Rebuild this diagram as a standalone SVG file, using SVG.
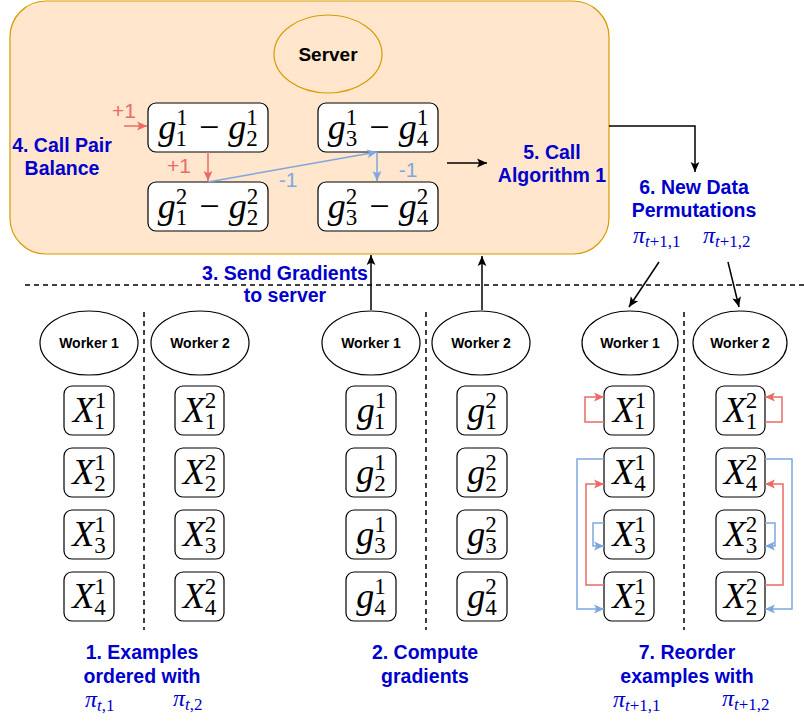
<svg xmlns="http://www.w3.org/2000/svg" width="804" height="721" viewBox="0 0 804 721">
<defs>
<style>
.lbl{font-family:"Liberation Sans",Arial,sans-serif;font-weight:bold;font-size:19.5px;fill:#0000cc;text-anchor:middle}
.wk{font-family:"Liberation Sans",Arial,sans-serif;font-weight:bold;font-size:14px;fill:#000;text-anchor:middle}
.m{font-family:"Liberation Serif","Times New Roman",serif;font-style:italic;font-size:36px;fill:#000;text-anchor:middle}
.s{font-style:normal;font-size:23px}
.r{font-style:normal;font-size:36px}
.pi{font-family:"Liberation Serif","Times New Roman",serif;font-style:italic;font-size:24px;fill:#0000cc}
.ps{font-size:17px}
.pn{font-style:normal;font-size:17px}
.box{fill:#fff;stroke:#000;stroke-width:1.2}
.ell{fill:#fff;stroke:#000;stroke-width:1.2}
.dash{stroke:#000;stroke-width:1.5;stroke-dasharray:5 4;fill:none}
.blk{stroke:#000;stroke-width:1.5;fill:none;marker-end:url(#ak)}
.red{stroke:#ea6b66;stroke-width:1.5;fill:none;marker-end:url(#ar)}
.blu{stroke:#7ea6e0;stroke-width:1.5;fill:none;marker-end:url(#ab)}
.pl{font-family:"Liberation Sans",Arial,sans-serif;font-size:21px;text-anchor:middle}
</style>
<marker id="ak" viewBox="0 0 10 10" refX="9.5" refY="5" markerWidth="11" markerHeight="11" markerUnits="userSpaceOnUse" orient="auto"><path d="M0.5,1 L9.5,5 L0.5,9 L2.5,5 z" fill="#000"/></marker>
<marker id="ar" viewBox="0 0 10 10" refX="9.5" refY="5" markerWidth="11" markerHeight="11" markerUnits="userSpaceOnUse" orient="auto"><path d="M0.5,1 L9.5,5 L0.5,9 L2.5,5 z" fill="#ea6b66"/></marker>
<marker id="ab" viewBox="0 0 10 10" refX="9.5" refY="5" markerWidth="11" markerHeight="11" markerUnits="userSpaceOnUse" orient="auto"><path d="M0.5,1 L9.5,5 L0.5,9 L2.5,5 z" fill="#7ea6e0"/></marker>
</defs>
<rect width="804" height="721" fill="#fff"/>

<g id="server-box">
<rect x="10" y="1" width="599" height="253" rx="36" fill="#ffe6cc" stroke="#d79b00" stroke-width="1.2"/>
</g>
<g id="server">
<ellipse cx="328" cy="54" rx="54" ry="39" fill="none" stroke="#d79b00" stroke-width="1.2"/>
<text x="328" y="61" class="wk" style="font-size:19px">Server</text>
</g>

<g id="pair-1-2-a">
<rect class="box" x="148" y="103" width="120" height="49" rx="8"/>
<text class="m" x="208" y="139">g<tspan class="s" dy="-14">1</tspan><tspan class="s" dx="-11.5" dy="21">1</tspan><tspan class="r" dx="12" dy="-7">−</tspan><tspan dx="9">g</tspan><tspan class="s" dy="-14">1</tspan><tspan class="s" dx="-11.5" dy="21">2</tspan></text>
</g>
<g id="pair-1-2-b">
<rect class="box" x="148" y="182" width="120" height="49" rx="8"/>
<text class="m" x="208" y="218">g<tspan class="s" dy="-14">2</tspan><tspan class="s" dx="-11.5" dy="21">1</tspan><tspan class="r" dx="12" dy="-7">−</tspan><tspan dx="9">g</tspan><tspan class="s" dy="-14">2</tspan><tspan class="s" dx="-11.5" dy="21">2</tspan></text>
</g>
<g id="pair-3-4-a">
<rect class="box" x="318" y="103" width="120" height="49" rx="8"/>
<text class="m" x="378" y="139">g<tspan class="s" dy="-14">1</tspan><tspan class="s" dx="-11.5" dy="21">3</tspan><tspan class="r" dx="12" dy="-7">−</tspan><tspan dx="9">g</tspan><tspan class="s" dy="-14">1</tspan><tspan class="s" dx="-11.5" dy="21">4</tspan></text>
</g>
<g id="pair-3-4-b">
<rect class="box" x="318" y="182" width="120" height="49" rx="8"/>
<text class="m" x="378" y="218">g<tspan class="s" dy="-14">2</tspan><tspan class="s" dx="-11.5" dy="21">3</tspan><tspan class="r" dx="12" dy="-7">−</tspan><tspan dx="9">g</tspan><tspan class="s" dy="-14">2</tspan><tspan class="s" dx="-11.5" dy="21">4</tspan></text>
</g>

<g id="labels">
<text class="lbl" x="62" y="152">4. Call Pair</text>
<text class="lbl" x="62" y="175">Balance</text>
<text class="lbl" x="552" y="159">5. Call</text>
<text class="lbl" x="552" y="182">Algorithm 1</text>
<text class="lbl" x="694" y="194">6. New Data</text>
<text class="lbl" x="694" y="217">Permutations</text>
<text class="lbl" x="285" y="280">3. Send Gradients</text>
<text class="lbl" x="285" y="302">to server</text>
<text class="lbl" x="142" y="659">1. Examples</text>
<text class="lbl" x="142" y="683">ordered with</text>
<text class="lbl" x="425" y="659">2. Compute</text>
<text class="lbl" x="425" y="683">gradients</text>
<text class="lbl" x="687" y="659">7. Reorder</text>
<text class="lbl" x="687" y="683">examples with</text>
<text class="pl" x="124" y="118" fill="#ea6b66">+1</text>
<text class="pl" x="179" y="173" fill="#ea6b66">+1</text>
<text class="pl" x="288" y="187" fill="#7ea6e0">-1</text>
<text class="pl" x="408" y="177" fill="#7ea6e0">-1</text>
</g>

<g id="perms">
<text class="pi" x="633" y="243">π<tspan class="ps" dy="4">t</tspan><tspan class="pn">+1,1</tspan></text>
<text class="pi" x="703" y="243">π<tspan class="ps" dy="4">t</tspan><tspan class="pn">+1,2</tspan></text>
<text class="pi" x="85" y="707">π<tspan class="ps" dy="4">t</tspan><tspan class="pn">,1</tspan></text>
<text class="pi" x="173" y="706">π<tspan class="ps" dy="4">t</tspan><tspan class="pn">,2</tspan></text>
<text class="pi" x="613" y="707">π<tspan class="ps" dy="4">t</tspan><tspan class="pn">+1,1</tspan></text>
<text class="pi" x="722" y="706">π<tspan class="ps" dy="4">t</tspan><tspan class="pn">+1,2</tspan></text>
</g>

<g id="separators">
<line class="dash" x1="25" y1="285" x2="804" y2="285"/>
<line class="dash" x1="144" y1="312" x2="144" y2="630"/>
<line class="dash" x1="426" y1="312" x2="426" y2="630"/>
<line class="dash" x1="684" y1="312" x2="684" y2="630"/>
</g>

<g id="workers">
<g id="w1-left"><ellipse class="ell" cx="89" cy="343" rx="49" ry="32"/><text class="wk" x="89" y="348">Worker 1</text></g>
<g id="w2-left"><ellipse class="ell" cx="200" cy="343" rx="49" ry="32"/><text class="wk" x="200" y="348">Worker 2</text></g>
<g id="w1-mid"><ellipse class="ell" cx="371" cy="343" rx="49" ry="32"/><text class="wk" x="371" y="348">Worker 1</text></g>
<g id="w2-mid"><ellipse class="ell" cx="481" cy="343" rx="49" ry="32"/><text class="wk" x="481" y="348">Worker 2</text></g>
<g id="w1-right"><ellipse class="ell" cx="630" cy="343" rx="48" ry="32"/><text class="wk" x="630" y="348">Worker 1</text></g>
<g id="w2-right"><ellipse class="ell" cx="740" cy="343" rx="47" ry="32"/><text class="wk" x="740" y="348">Worker 2</text></g>
</g>

<g id="examples-left">
<g id="xl11"><rect class="box" x="64" y="386" width="50" height="49" rx="8"/><text class="m" x="89" y="422">X<tspan class="s" dy="-14">1</tspan><tspan class="s" dx="-11.5" dy="21">1</tspan></text></g>
<g id="xl12"><rect class="box" x="64" y="448" width="50" height="49" rx="8"/><text class="m" x="89" y="484">X<tspan class="s" dy="-14">1</tspan><tspan class="s" dx="-11.5" dy="21">2</tspan></text></g>
<g id="xl13"><rect class="box" x="64" y="510" width="50" height="49" rx="8"/><text class="m" x="89" y="546">X<tspan class="s" dy="-14">1</tspan><tspan class="s" dx="-11.5" dy="21">3</tspan></text></g>
<g id="xl14"><rect class="box" x="64" y="572" width="50" height="49" rx="8"/><text class="m" x="89" y="608">X<tspan class="s" dy="-14">1</tspan><tspan class="s" dx="-11.5" dy="21">4</tspan></text></g>
<g id="xl21"><rect class="box" x="175" y="386" width="49" height="49" rx="8"/><text class="m" x="199.5" y="422">X<tspan class="s" dy="-14">2</tspan><tspan class="s" dx="-11.5" dy="21">1</tspan></text></g>
<g id="xl22"><rect class="box" x="175" y="448" width="49" height="49" rx="8"/><text class="m" x="199.5" y="484">X<tspan class="s" dy="-14">2</tspan><tspan class="s" dx="-11.5" dy="21">2</tspan></text></g>
<g id="xl23"><rect class="box" x="175" y="510" width="49" height="49" rx="8"/><text class="m" x="199.5" y="546">X<tspan class="s" dy="-14">2</tspan><tspan class="s" dx="-11.5" dy="21">3</tspan></text></g>
<g id="xl24"><rect class="box" x="175" y="572" width="49" height="49" rx="8"/><text class="m" x="199.5" y="608">X<tspan class="s" dy="-14">2</tspan><tspan class="s" dx="-11.5" dy="21">4</tspan></text></g>
</g>

<g id="gradients">
<g id="g11"><rect class="box" x="346" y="386" width="50" height="49" rx="8"/><text class="m" x="371" y="422">g<tspan class="s" dy="-14">1</tspan><tspan class="s" dx="-11.5" dy="21">1</tspan></text></g>
<g id="g12"><rect class="box" x="346" y="448" width="50" height="49" rx="8"/><text class="m" x="371" y="484">g<tspan class="s" dy="-14">1</tspan><tspan class="s" dx="-11.5" dy="21">2</tspan></text></g>
<g id="g13"><rect class="box" x="346" y="510" width="50" height="49" rx="8"/><text class="m" x="371" y="546">g<tspan class="s" dy="-14">1</tspan><tspan class="s" dx="-11.5" dy="21">3</tspan></text></g>
<g id="g14"><rect class="box" x="346" y="572" width="50" height="49" rx="8"/><text class="m" x="371" y="608">g<tspan class="s" dy="-14">1</tspan><tspan class="s" dx="-11.5" dy="21">4</tspan></text></g>
<g id="g21"><rect class="box" x="457" y="386" width="50" height="49" rx="8"/><text class="m" x="482" y="422">g<tspan class="s" dy="-14">2</tspan><tspan class="s" dx="-11.5" dy="21">1</tspan></text></g>
<g id="g22"><rect class="box" x="457" y="448" width="50" height="49" rx="8"/><text class="m" x="482" y="484">g<tspan class="s" dy="-14">2</tspan><tspan class="s" dx="-11.5" dy="21">2</tspan></text></g>
<g id="g23"><rect class="box" x="457" y="510" width="50" height="49" rx="8"/><text class="m" x="482" y="546">g<tspan class="s" dy="-14">2</tspan><tspan class="s" dx="-11.5" dy="21">3</tspan></text></g>
<g id="g24"><rect class="box" x="457" y="572" width="50" height="49" rx="8"/><text class="m" x="482" y="608">g<tspan class="s" dy="-14">2</tspan><tspan class="s" dx="-11.5" dy="21">4</tspan></text></g>
</g>

<g id="examples-right">
<g id="xr11"><rect class="box" x="604" y="386" width="50" height="49" rx="8"/><text class="m" x="629" y="422">X<tspan class="s" dy="-14">1</tspan><tspan class="s" dx="-11.5" dy="21">1</tspan></text></g>
<g id="xr14"><rect class="box" x="604" y="448" width="50" height="49" rx="8"/><text class="m" x="629" y="484">X<tspan class="s" dy="-14">1</tspan><tspan class="s" dx="-11.5" dy="21">4</tspan></text></g>
<g id="xr13"><rect class="box" x="604" y="510" width="50" height="49" rx="8"/><text class="m" x="629" y="546">X<tspan class="s" dy="-14">1</tspan><tspan class="s" dx="-11.5" dy="21">3</tspan></text></g>
<g id="xr12"><rect class="box" x="604" y="572" width="50" height="49" rx="8"/><text class="m" x="629" y="608">X<tspan class="s" dy="-14">1</tspan><tspan class="s" dx="-11.5" dy="21">2</tspan></text></g>
<g id="xr21"><rect class="box" x="716" y="386" width="49" height="49" rx="8"/><text class="m" x="740.5" y="422">X<tspan class="s" dy="-14">2</tspan><tspan class="s" dx="-11.5" dy="21">1</tspan></text></g>
<g id="xr24"><rect class="box" x="716" y="448" width="49" height="49" rx="8"/><text class="m" x="740.5" y="484">X<tspan class="s" dy="-14">2</tspan><tspan class="s" dx="-11.5" dy="21">4</tspan></text></g>
<g id="xr23"><rect class="box" x="716" y="510" width="49" height="49" rx="8"/><text class="m" x="740.5" y="546">X<tspan class="s" dy="-14">2</tspan><tspan class="s" dx="-11.5" dy="21">3</tspan></text></g>
<g id="xr22"><rect class="box" x="716" y="572" width="49" height="49" rx="8"/><text class="m" x="740.5" y="608">X<tspan class="s" dy="-14">2</tspan><tspan class="s" dx="-11.5" dy="21">2</tspan></text></g>
</g>

<g id="connectors">
<path class="red" d="M124,126 H147"/>
<path class="red" d="M208,152 V181"/>
<path class="blu" d="M208,182 L377,152"/>
<path class="blu" d="M377,152 V181"/>
<path class="blk" d="M447,163 H487"/>
<path class="blk" d="M609,126 H695 V172"/>
<path class="blk" d="M659,262 L629,307"/>
<path class="blk" d="M728,262 L739,307"/>
<path class="blk" d="M371,310 V255"/>
<path class="blk" d="M482,310 V256"/>
<path class="red" d="M604,422 H585 V397 H604"/>
<path class="blu" d="M604,459 H577 V609 H604"/>
<path class="red" d="M604,585 H586 V484 H604"/>
<path class="blu" d="M604,523 H593 V546 H604"/>
<path class="red" d="M765,422 H782 V397 H765"/>
<path class="blu" d="M765,459 H792 V609 H765"/>
<path class="red" d="M765,585 H783 V484 H765"/>
<path class="blu" d="M765,523 H775 V546 H765"/>
</g>
</svg>
